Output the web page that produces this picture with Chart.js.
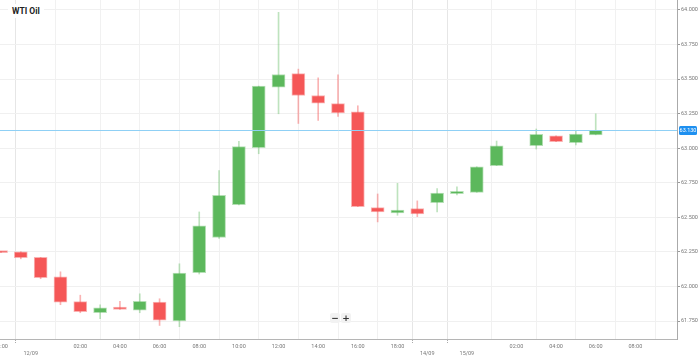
<!DOCTYPE html>
<html>
<head>
<meta charset="utf-8">
<script src="https://cdn.jsdelivr.net/npm/chart.js@4"></script>
<style>
  html, body { margin: 0; padding: 0; background: #fff; }
  #wrap { position: relative; width: 699px; height: 356px; overflow: hidden; }
  canvas { display: block; }
  #title { position: absolute; left: 8px; top: 4px; padding: 2px 4px; background: #fff;
           font: bold 8.5px Roboto, "Noto Sans", sans-serif; color: #222; }
  #zoom { position: absolute; left: 330px; top: 313px; display: flex; gap: 1px; }
  #zoom div { width: 10px; height: 10px; background: #f2f2f2; border-radius: 2px;
              font: bold 9px "DejaVu Sans", sans-serif; color: #333; text-align: center; line-height: 10px; }
</style>
</head>
<body>
<div id="wrap">
  <canvas id="c" width="699" height="356"></canvas>
  <div id="title">WTI Oil</div>
  <div id="zoom"><div>−</div><div>+</div></div>
</div>
<script>
// hourly slots on a gap-free session axis
const slots  = [0,1,2,3,4,5,6,7,8,9,10,11,12,13,14,15,16,17,18,19,20,21,22,23,24,25,27,28,29,30];
const opens  = [62.255,62.251,62.210,62.070,61.890,61.810,61.851,61.829,61.887,61.750,62.099,62.354,62.592,63.004,63.442,63.540,63.381,63.323,63.264,62.570,62.532,62.563,62.606,62.671,62.681,62.874,63.018,63.090,63.040,63.097];
const highs  = [62.255,62.251,62.210,62.106,61.937,61.868,61.892,61.947,61.911,62.164,62.539,62.838,63.049,63.449,63.983,63.572,63.509,63.531,63.307,62.669,62.746,62.619,62.708,62.720,62.866,63.052,63.139,63.090,63.124,63.249];
const lows   = [62.245,62.200,62.056,61.868,61.810,61.767,61.834,61.810,61.718,61.709,62.090,62.347,62.590,62.960,63.249,63.179,63.201,63.230,62.578,62.467,62.515,62.505,62.539,62.662,62.681,62.874,62.994,63.047,63.023,63.097];
const closes = [62.245,62.208,62.063,61.887,61.817,61.846,61.834,61.892,61.757,62.096,62.438,62.659,63.011,63.449,63.533,63.381,63.326,63.256,62.578,62.539,62.553,62.525,62.675,62.688,62.866,63.018,63.100,63.047,63.103,63.130];
const currentPrice = 63.130;

const xTickPos    = [0, 1.5, 4, 6, 8, 10, 12, 14, 16, 18, 20, 21.5, 23.5, 26, 28, 30, 32];
const xTickLabels = ["22:00", "12/09", "02:00", "04:00", "06:00", "08:00", "10:00", "12:00", "14:00", "16:00", "18:00", "14/09", "15/09", "02:00", "04:00", "06:00", "08:00"];
const yTicks = [61.75, 62.0, 62.25, 62.5, 62.75, 63.0, 63.25, 63.5, 63.75, 64.0];

const GREEN = '#5cb85c', RED = '#f55757';
const up = slots.map((s, i) => closes[i] >= opens[i]);
const isDate = l => l.indexOf('/') >= 0;

const priceLine = {
  id: 'priceLine',
  afterDatasetsDraw(chart) {
    const { ctx, chartArea, scales: { y } } = chart;
    const py = Math.round(y.getPixelForValue(currentPrice)) + 0.5;
    ctx.save();
    ctx.strokeStyle = '#8fd0f5';
    ctx.lineWidth = 1;
    ctx.beginPath(); ctx.moveTo(chartArea.left, py); ctx.lineTo(chartArea.right, py); ctx.stroke();
    ctx.fillStyle = '#1e90f0';
    ctx.beginPath();
    ctx.roundRect(chartArea.right + 2, py - 4.5, 18, 9, 1.5);
    ctx.fill();
    ctx.fillStyle = '#fff';
    ctx.font = '5.5px Roboto, sans-serif';
    ctx.textBaseline = 'middle';
    ctx.textAlign = 'center';
    ctx.fillText(currentPrice.toFixed(3), chartArea.right + 11, py);
    ctx.restore();
  }
};

new Chart(document.getElementById('c'), {
  type: 'bar',
  data: {
    datasets: [
      {
        label: 'body',
        order: 0,
        grouped: false,
        data: slots.map((s, i) => ({ x: s, y: [opens[i], closes[i]] })),
        backgroundColor: up.map(u => u ? GREEN : RED),
        borderColor: up.map(u => u ? 'rgba(92,184,92,0.45)' : 'rgba(245,87,87,0.45)'),
        borderWidth: 1,
        borderSkipped: false,
        barThickness: 13,
        minBarLength: 2
      },
      {
        label: 'wick',
        order: 1,
        grouped: false,
        data: slots.map((s, i) => ({ x: s, y: [lows[i], highs[i]] })),
        backgroundColor: up.map(u => u ? 'rgba(92,184,92,0.4)' : 'rgba(245,87,87,0.45)'),
        borderWidth: 0,
        barThickness: 1
      }
    ]
  },
  options: {
    responsive: false,
    animation: false,
    events: [],
    layout: { padding: 0 },
    plugins: { legend: { display: false }, tooltip: { enabled: false }, title: { display: false } },
    scales: {
      x: {
        type: 'linear',
        min: -0.05,
        max: 34.1,
        offset: false,
        afterBuildTicks(scale) { scale.ticks = xTickPos.map(v => ({ value: v })); },
        afterFit(scale) { scale.height = 17; scale.paddingLeft = 0; scale.paddingRight = 0; },
        ticks: {
          autoSkip: false, maxRotation: 0, minRotation: 0, padding: 0,
          color: '#777',
          font: { size: 5.5, family: 'Roboto, sans-serif', lineHeight: 1.25 },
          callback(v) {
            const i = xTickPos.indexOf(v);
            if (i < 0) return '';
            const l = xTickLabels[i];
            return isDate(l) ? ['', l] : l;
          }
        },
        grid: {
          color: ctx => (ctx.tick && isDate(xTickLabels[xTickPos.indexOf(ctx.tick.value)] || '')) ? '#e6e6e6' : '#f1f1f1',
          tickLength: 4,
          tickColor: ctx => (ctx.tick && isDate(xTickLabels[xTickPos.indexOf(ctx.tick.value)] || '')) ? '#aaa' : 'rgba(0,0,0,0)',
          tickBorderDash: [1, 1]
        },
        border: { color: '#b5b5b5', width: 1 }
      },
      y: {
        position: 'right',
        min: 61.62,
        max: 64.072,
        afterBuildTicks(scale) { scale.ticks = yTicks.map(v => ({ value: v })); },
        afterFit(scale) { scale.width = 22; scale.paddingTop = 0; scale.paddingBottom = 0; },
        ticks: {
          padding: 1,
          color: '#777',
          font: { size: 5.5, family: 'Roboto, sans-serif' },
          callback: v => Number(v).toFixed(3)
        },
        grid: { color: '#f0f0f0', tickLength: 3, tickColor: '#999' },
        border: { color: '#aaa', width: 1 }
      }
    }
  },
  plugins: [priceLine]
});
</script>
</body>
</html>
